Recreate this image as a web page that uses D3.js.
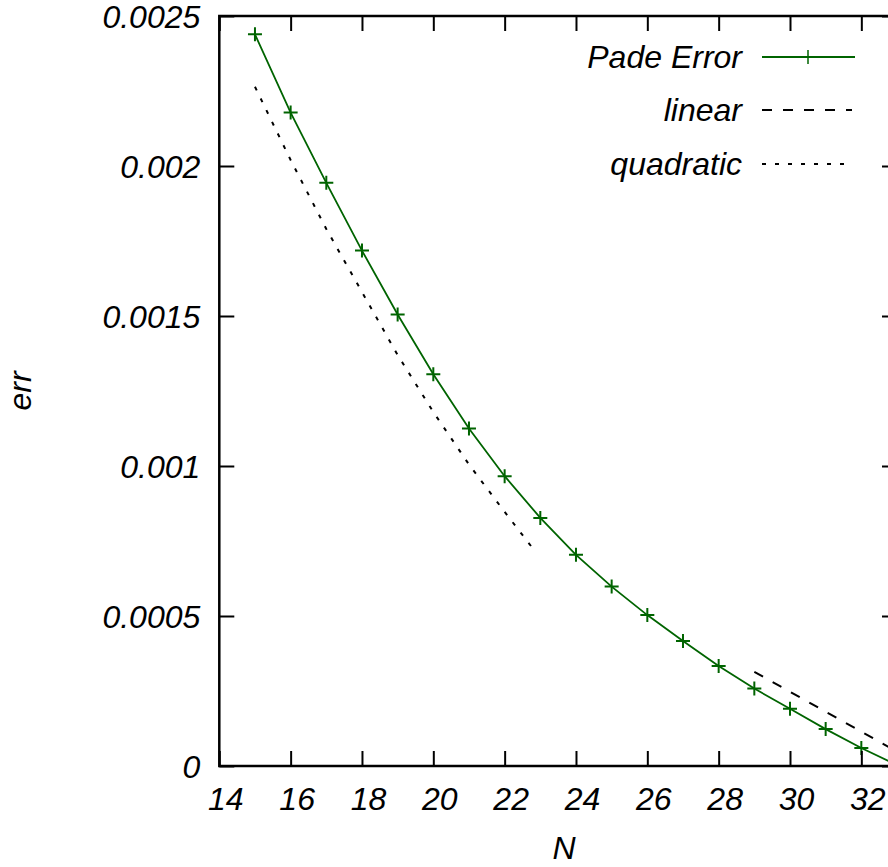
<!DOCTYPE html>
<html>
<head>
<meta charset="utf-8">
<script src="https://cdn.jsdelivr.net/npm/d3@7"></script>
<style>
  body { margin: 0; background: #fff; }
  text { font-family: "Liberation Sans", Arial, sans-serif; font-style: italic; font-size: 32px; fill: #000; }
</style>
</head>
<body>
<div id="graph1"></div>
<script>
// data
var padeN = [15, 16, 17, 18, 19, 20, 21, 22, 23, 24, 25, 26, 27, 28, 29, 30, 31, 32, 33];
var padeErr = [0.002439, 0.002178, 0.001944, 0.001718, 0.001505, 0.001306, 0.001125, 0.000966,
    0.000827, 0.000704, 0.000598, 0.000503, 0.000417, 0.000333, 0.000258, 0.000191, 0.000123,
    0.000060, 0.000003];
var linearN = [29, 33];
var linearErr = [0.000314, 0.000048];
var quadN = [15, 16, 17, 18, 19, 20, 21, 22, 22.85];
var quadErr = [0.002264, 0.00202, 0.00179, 0.00158, 0.00137, 0.00118, 0.001005, 0.000847, 0.000716];
var xTicks = [14, 16, 18, 20, 22, 24, 26, 28, 30, 32];
var yTicks = [0, 0.0005, 0.001, 0.0015, 0.002, 0.0025];
var yTickLabels = ["0", "0.0005", "0.001", "0.0015", "0.002", "0.0025"];
var names = ["Pade Error", "linear", "quadratic"];

var w = 888;
var h = 867;
// plot box (right edge falls just outside the window, as in the picture)
var pLeft = 219.3, pRight = 897, pTop = 16, pBottom = 766;
var green = "#006400";
var tickLen = 15;

var svg = d3.select("#graph1")
    .append("svg")
    .attr("width", w)
    .attr("height", h)
    .append("g");

var xScale = d3.scaleLinear().domain([14, 33]).range([pLeft, pRight]);
var yScale = d3.scaleLinear().domain([0, 0.0025]).range([pBottom, pTop]);

function zip(xs, ys) {
    return xs.map(function (x, i) { return { x: x, y: ys[i] }; });
}

svg.append("clipPath")
    .attr("id", "plotClip")
    .append("rect")
    .attr("x", pLeft)
    .attr("y", pTop)
    .attr("width", pRight - pLeft)
    .attr("height", pBottom - pTop);

var line = d3.line()
    .x(function (d) { return xScale(d.x); })
    .y(function (d) { return yScale(d.y); });

var plot = svg.append("g").attr("clip-path", "url(#plotClip)");

//quadratic fit, dotted
plot.append("path")
    .datum(zip(quadN, quadErr))
    .attr("d", line)
    .attr("fill", "none")
    .attr("stroke", "#000")
    .attr("stroke-width", 2)
    .attr("stroke-dasharray", "4,9");

//linear fit, dashed
plot.append("path")
    .datum(zip(linearN, linearErr))
    .attr("d", line)
    .attr("fill", "none")
    .attr("stroke", "#000")
    .attr("stroke-width", 2)
    .attr("stroke-dasharray", "10,11");

//pade error line + points
plot.append("path")
    .datum(zip(padeN, padeErr))
    .attr("d", line)
    .attr("fill", "none")
    .attr("stroke", green)
    .attr("stroke-width", 1.8);

plot.selectAll(".pt")
    .data(zip(padeN, padeErr))
    .enter()
    .append("path")
    .attr("class", "pt")
    .attr("d", "M-7,0H7M0,-7V7")
    .attr("transform", function (d) {
        return "translate(" + xScale(d.x) + "," + yScale(d.y) + ")";
    })
    .attr("stroke", green)
    .attr("stroke-width", 2)
    .attr("fill", "none");

//axes: ticks inside on all four sides
var xAxisB = d3.axisBottom(xScale).tickValues(xTicks).tickSize(-tickLen).tickFormat(d3.format("d"));
var xAxisT = d3.axisTop(xScale).tickValues(xTicks).tickSize(-tickLen).tickFormat("");
var yAxisL = d3.axisLeft(yScale).tickValues(yTicks).tickSize(-tickLen)
    .tickFormat(function (d, i) { return yTickLabels[i]; });
var yAxisR = d3.axisRight(yScale).tickValues(yTicks).tickSize(-tickLen).tickFormat("");

function styleAxis(g) {
    g.select(".domain").remove();
    g.selectAll(".tick line").attr("stroke", "#000").attr("stroke-width", 2);
    g.selectAll(".tick text")
        .attr("font-family", "Liberation Sans, Arial, sans-serif")
        .attr("font-style", "italic")
        .attr("font-size", 32)
        .attr("fill", "#000");
}

svg.append("g").attr("transform", "translate(0," + pBottom + ")").call(xAxisB).call(styleAxis)
    .selectAll(".tick text").attr("y", 44).attr("dy", 0).attr("dx", 6);
svg.append("g").attr("transform", "translate(0," + pTop + ")").call(xAxisT).call(styleAxis);
svg.append("g").attr("transform", "translate(" + pLeft + ",0)").call(yAxisL).call(styleAxis)
    .selectAll(".tick text").attr("x", -19).attr("dy", 11);
svg.append("g").attr("transform", "translate(" + pRight + ",0)").call(yAxisR).call(styleAxis);

//frame
svg.append("rect")
    .attr("x", pLeft)
    .attr("y", pTop)
    .attr("width", pRight - pLeft)
    .attr("height", pBottom - pTop)
    .attr("fill", "none")
    .attr("stroke", "#000")
    .attr("stroke-width", 2.5);

//axis labels
svg.append("text")
    .attr("x", (pLeft + pRight) / 2 + 6)
    .attr("y", 859)
    .attr("text-anchor", "middle")
    .text("N");

svg.append("text")
    .attr("transform", "translate(31," + (pTop + pBottom) / 2 + ") rotate(-90)")
    .attr("text-anchor", "middle")
    .text("err");

//legend
var legY = [57, 110, 164];
var legend = svg.selectAll(".leg")
    .data(names)
    .enter()
    .append("g")
    .attr("class", "leg")
    .attr("transform", function (d, i) { return "translate(0," + legY[i] + ")"; });

legend.append("text")
    .attr("x", 742)
    .attr("y", 11)
    .attr("text-anchor", "end")
    .text(function (d) { return d; });

legend.append("line")
    .attr("x1", 762)
    .attr("x2", function (d, i) { return i == 0 ? 855 : 852; })
    .attr("y1", 0)
    .attr("y2", 0)
    .attr("stroke", function (d, i) { return i == 0 ? green : "#000"; })
    .attr("stroke-width", function (d, i) { return i == 0 ? 1.8 : 2; })
    .attr("stroke-dasharray", function (d, i) { return ["", "10,11", "4,9"][i]; });

svg.append("path")
    .attr("d", "M-7,0H7M0,-7V7")
    .attr("transform", "translate(808," + legY[0] + ")")
    .attr("stroke", green)
    .attr("stroke-width", 1.5);
</script>
</body>
</html>
